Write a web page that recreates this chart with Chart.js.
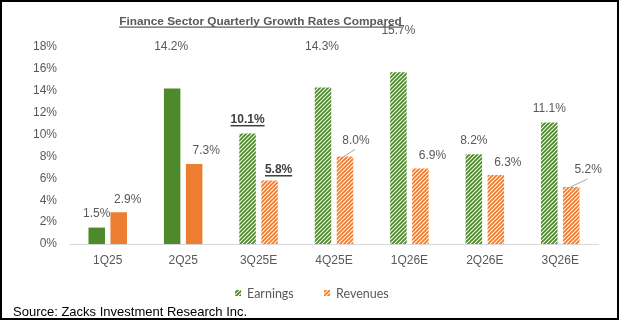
<!DOCTYPE html>
<html>
<head>
<meta charset="utf-8">
<script src="https://cdn.jsdelivr.net/npm/chart.js@4.4.1/dist/chart.umd.min.js"></script>
<style>
  html, body { margin: 0; padding: 0; background: #fff; }
  #wrap { position: relative; width: 620px; height: 321px; }
  #c { position: absolute; left: 0; top: 0; }
  #frame { position: absolute; left: 0; top: 0; width: 619px; height: 320px; box-sizing: border-box; border: 2px solid #000; pointer-events: none; }
</style>
</head>
<body>
<div id="wrap">
  <canvas id="c" width="620" height="321"></canvas>
  <div id="frame"></div>
</div>
<script>
// ---- data ----
const titleText = 'Finance Sector Quarterly Growth Rates Compared';
const sourceText = 'Source: Zacks Investment Research Inc.';
const categories = ['1Q25', '2Q25', '3Q25E', '4Q25E', '1Q26E', '2Q26E', '3Q26E'];
const earnings = [1.5, 14.2, 10.1, 14.3, 15.7, 8.2, 11.1];
const revenues = [2.9, 7.3, 5.8, 8.0, 6.9, 6.3, 5.2];
const estimated = [false, false, true, true, true, true, true];
const highlighted = [false, false, true, false, false, false, false];
const seriesNames = ['Earnings', 'Revenues'];
const yTicks = [0, 2, 4, 6, 8, 10, 12, 14, 16, 18];

// ---- label placement (offsets relative to bar top centre) ----
const earnLabelOffsets = [[0, -14], [-1, -42], [0, -14], [-1, -41], [0, -41], [0, -14], [0, -14]];
const revLabelOffsets = [[9, -13], [12, -13], [9, -11], [11, -16], [12, -13], [12, -12], [17, -17]];
const revLeader = [false, false, false, true, false, false, true];

const GREEN = '#4E8A2C';
const ORANGE = '#ED7D31';
const FONT = '"Liberation Sans", Arial, sans-serif';

function makePattern(color) {
  const t = document.createElement('canvas');
  t.width = 4; t.height = 4;
  const g = t.getContext('2d');
  g.fillStyle = '#ffffff';
  g.fillRect(0, 0, 4, 4);
  g.strokeStyle = color;
  g.lineWidth = 1.9;
  g.beginPath();
  g.moveTo(-1, 5); g.lineTo(5, -1);
  g.moveTo(-1, 1); g.lineTo(1, -1);
  g.moveTo(3, 5); g.lineTo(5, 3);
  g.stroke();
  return g.createPattern(t, 'repeat');
}
const greenPat = makePattern(GREEN);
const orangePat = makePattern(ORANGE);

function pickTitleFont(ctx) {
  const target = 283;
  ctx.font = 'bold 14px monospace';
  const mono = ctx.measureText(titleText).width;
  ctx.font = 'bold 14px "Liberation Sans Narrow", monospace';
  const nar = ctx.measureText(titleText).width;
  let fam = FONT;
  if (Math.abs(nar - mono) > 1) fam = '"Liberation Sans Narrow", ' + FONT;
  ctx.font = 'bold 14px ' + fam;
  const w = ctx.measureText(titleText).width;
  const size = Math.min(15, 14 * target / w);
  return 'bold ' + size.toFixed(2) + 'px ' + fam;
}

const decorPlugin = {
  id: 'decor',
  afterDatasetsDraw(chart) {
    const ctx = chart.ctx;
    ctx.save();
    // title
    ctx.font = pickTitleFont(ctx);
    ctx.fillStyle = '#595959';
    ctx.textAlign = 'center';
    ctx.textBaseline = 'alphabetic';
    const tx = 260.5, ty = 25;
    ctx.fillText(titleText, tx, ty);
    const tw = ctx.measureText(titleText).width;
    ctx.fillRect(tx - tw / 2, 26.5, tw, 1.2);

    // data labels
    const sets = [[earnings, earnLabelOffsets, null], [revenues, revLabelOffsets, revLeader]];
    sets.forEach((s, di) => {
      const meta = chart.getDatasetMeta(di);
      meta.data.forEach((bar, i) => {
        const txt = s[0][i].toFixed(1) + '%';
        const lx = bar.x + s[1][i][0];
        const ly = bar.y + s[1][i][1];
        if (s[2] && s[2][i]) {
          ctx.strokeStyle = '#A6A6A6';
          ctx.lineWidth = 1;
          ctx.beginPath();
          ctx.moveTo(bar.x - 1, bar.y);
          ctx.lineTo(lx - 1, ly + 9);
          ctx.stroke();
        }
        if (highlighted[i]) {
          ctx.font = 'bold 12px ' + FONT;
          ctx.fillStyle = '#404040';
        } else {
          ctx.font = '12px ' + FONT;
          ctx.fillStyle = '#595959';
        }
        ctx.textAlign = 'center';
        ctx.textBaseline = 'middle';
        ctx.fillText(txt, lx, ly);
        if (highlighted[i]) {
          const w = ctx.measureText(txt).width;
          ctx.fillRect(lx - w / 2, ly + 5.5, w, 1.5);
        }
      });
    });

    // legend
    ctx.font = '12.5px Lato, "Open Sans", sans-serif';
    ctx.textAlign = 'left';
    ctx.textBaseline = 'middle';
    const legendItems = [[235, greenPat, seriesNames[0]], [324, orangePat, seriesNames[1]]];
    legendItems.forEach(it => {
      ctx.fillStyle = it[1];
      ctx.fillRect(it[0], 290, 6, 6);
      ctx.fillStyle = '#595959';
      ctx.fillText(it[2], it[0] + 12, 293.5);
    });

    // source
    ctx.font = '13px ' + FONT;
    ctx.fillStyle = '#000000';
    ctx.textBaseline = 'alphabetic';
    ctx.fillText(sourceText, 13, 316);
    ctx.restore();
  }
};

new Chart(document.getElementById('c'), {
  type: 'bar',
  data: {
    labels: categories,
    datasets: [
      {
        label: seriesNames[0],
        data: earnings,
        backgroundColor: estimated.map(e => e ? greenPat : GREEN),
        borderWidth: 0,
        categoryPercentage: 0.583,
        barPercentage: 0.75
      },
      {
        label: seriesNames[1],
        data: revenues,
        backgroundColor: estimated.map(e => e ? orangePat : ORANGE),
        borderWidth: 0,
        categoryPercentage: 0.583,
        barPercentage: 0.75
      }
    ]
  },
  options: {
    responsive: false,
    animation: false,
    devicePixelRatio: 1,
    layout: { padding: { left: 12, right: 22, top: 47, bottom: 47 } },
    plugins: {
      legend: { display: false },
      title: { display: false },
      tooltip: { enabled: false }
    },
    scales: {
      x: {
        grid: { display: false, drawTicks: false },
        border: { display: true, color: '#D9D9D9', width: 1 },
        ticks: { padding: 9, color: '#595959', font: { family: FONT, size: 12 } },
        afterFit: s => { s.height = 30; }
      },
      y: {
        min: 0,
        max: 18,
        grid: { display: false, drawTicks: false },
        border: { display: false },
        afterBuildTicks: s => { s.ticks = yTicks.map(v => ({ value: v })); },
        ticks: {
          padding: 13,
          color: '#595959',
          font: { family: FONT, size: 12 },
          callback: v => v + '%'
        },
        afterFit: s => { s.width = 58; }
      }
    }
  },
  plugins: [decorPlugin]
});
</script>
</body>
</html>
